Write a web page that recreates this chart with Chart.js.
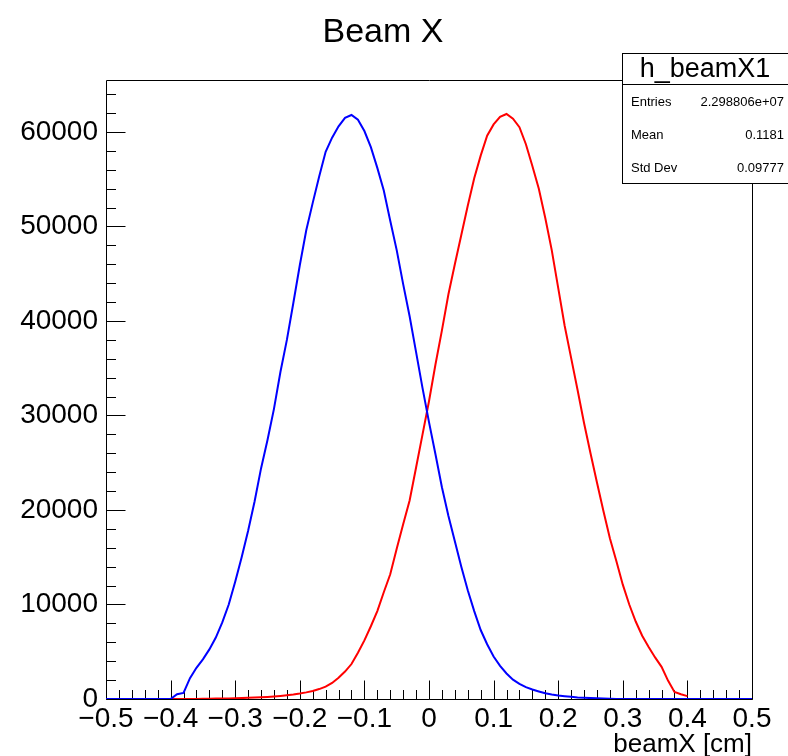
<!DOCTYPE html>
<html>
<head>
<meta charset="utf-8">
<script src="https://cdn.jsdelivr.net/npm/chart.js@4.4.1/dist/chart.umd.min.js"></script>
<style>
html,body{margin:0;padding:0;background:#fff;}
canvas{display:block;}
</style>
</head>
<body>
<canvas id="c" width="788" height="756"></canvas>
<script>
// ---- data ----
const binCenters = [
 -0.50,-0.49,-0.48,-0.47,-0.46,-0.45,-0.44,-0.43,-0.42,-0.41,
 -0.40,-0.39,-0.38,-0.37,-0.36,-0.35,-0.34,-0.33,-0.32,-0.31,
 -0.30,-0.29,-0.28,-0.27,-0.26,-0.25,-0.24,-0.23,-0.22,-0.21,
 -0.20,-0.19,-0.18,-0.17,-0.16,-0.15,-0.14,-0.13,-0.12,-0.11,
 -0.10,-0.09,-0.08,-0.07,-0.06,-0.05,-0.04,-0.03,-0.02,-0.01,
  0.00, 0.01, 0.02, 0.03, 0.04, 0.05, 0.06, 0.07, 0.08, 0.09,
  0.10, 0.11, 0.12, 0.13, 0.14, 0.15, 0.16, 0.17, 0.18, 0.19,
  0.20, 0.21, 0.22, 0.23, 0.24, 0.25, 0.26, 0.27, 0.28, 0.29,
  0.30, 0.31, 0.32, 0.33, 0.34, 0.35, 0.36, 0.37, 0.38, 0.39,
  0.40, 0.41, 0.42, 0.43, 0.44, 0.45, 0.46, 0.47, 0.48, 0.49,
  0.50
];
const blueCounts = [
 0,0,0,0,0,0,0,0,0,0,
 0,500,650,2200,3300,4200,5250,6500,8100,10000,
 12400,15000,17800,20900,24400,27400,30700,34600,38000,41900,
 45900,49600,52500,55300,57900,59400,60600,61500,61800,61300,
 60100,58400,56200,53800,50600,47500,43900,40500,36700,32900,
 29300,25900,22400,19400,16700,14000,11500,9300,7300,5800,
 4500,3500,2700,2050,1600,1250,1000,800,600,480,
 380,300,230,170,130,100,70,50,30,0,
 0,0,0,0,0,0,0,0,0,0,
 0,0,0,0,0,0,0,0,0,0,
 0
];
const redCounts = [
 null,null,null,null,null,null,null,null,null,null,
 0,0,0,0,10,20,30,40,50,60,
 80,100,120,150,180,220,270,330,400,480,
 580,700,850,1050,1300,1700,2250,2900,3700,4900,
 6200,7700,9300,11300,13200,15900,18500,21000,24500,28000,
 31500,35400,39000,42800,46000,49100,52200,55100,57500,59600,
 60800,61600,61900,61400,60500,58700,56400,54000,50900,47500,
 43500,39500,36100,32700,29200,26000,22900,19900,17000,14600,
 12100,10000,8200,6700,5500,4400,3400,1950,750,500,
 300,null,null,null,null,null,null,null,null,null,
 null
];
const xTickValues = [-0.5,-0.4,-0.3,-0.2,-0.1,0,0.1,0.2,0.3,0.4,0.5];
const xTickLabels = ['\u22120.5','\u22120.4','\u22120.3','\u22120.2','\u22120.1','0','0.1','0.2','0.3','0.4','0.5'];
const yTickValues = [0,10000,20000,30000,40000,50000,60000];
const yTickLabels = ['0','10000','20000','30000','40000','50000','60000'];
const histTitle = 'Beam X';
const xAxisTitle = 'beamX [cm]';
const statsName = 'h_beamX1';
const statsLabels = ['Entries','Mean','Std Dev'];
const statsValues = ['2.298806e+07','0.1181','0.09777'];

const FONT = "'Liberation Sans', Arial, Helvetica, sans-serif";
Chart.defaults.font.family = FONT;
Chart.defaults.color = '#000';

function pts(ys){ return binCenters.map((x,i)=>({x:x, y:ys[i]})); }

const rootDecor = {
  id: 'rootDecor',
  beforeDatasetsDraw(chart){
    const {ctx, chartArea:a, scales:{x, y}} = chart;
    ctx.save();
    ctx.strokeStyle = '#000';
    ctx.lineWidth = 1;
    ctx.beginPath();
    const L = Math.round(a.left)+0.5, R = Math.round(a.right)+0.5;
    const T = Math.round(a.top)+0.5, B = Math.round(a.bottom)+0.5;
    ctx.moveTo(L,T); ctx.lineTo(R,T); ctx.lineTo(R,B); ctx.lineTo(L,B); ctx.closePath();
    // y ticks: major 10000, minor 2000
    for (let i=0; i*2000 <= y.max; i++){
      const py = Math.round(y.getPixelForValue(i*2000))+0.5;
      const len = (i%5===0) ? 19 : 9.5;
      ctx.moveTo(L, py); ctx.lineTo(L+len, py);
    }
    // x ticks: major 0.1, minor 0.02
    for (let i=0; i<=50; i++){
      const v = -0.5 + i*0.02;
      const px = Math.round(x.getPixelForValue(v))+0.5;
      const len = (i%5===0) ? 19 : 9.5;
      ctx.moveTo(px, B); ctx.lineTo(px, B-len);
    }
    ctx.stroke();
    ctx.restore();
  },
  afterDraw(chart){
    const {ctx} = chart;
    ctx.save();
    // title
    ctx.fillStyle = '#000';
    ctx.font = '34px ' + FONT;
    ctx.textAlign = 'center';
    ctx.textBaseline = 'alphabetic';
    ctx.fillText(histTitle, 383, 42);
    // stats box
    ctx.fillStyle = '#fff';
    ctx.fillRect(622.5, 53.5, 200, 130);
    ctx.strokeStyle = '#000';
    ctx.lineWidth = 1;
    ctx.strokeRect(622.5, 53.5, 200, 130);
    ctx.beginPath(); ctx.moveTo(622.5, 84.5); ctx.lineTo(800, 84.5); ctx.stroke();
    ctx.fillStyle = '#000';
    ctx.font = '27px ' + FONT;
    ctx.textAlign = 'center';
    ctx.textBaseline = 'middle';
    ctx.fillText(statsName, 705, 70);
    ctx.font = '13px ' + FONT;
    const rowsY = [102, 135, 168];
    statsLabels.forEach((lab,i)=>{
      ctx.textAlign = 'left';
      ctx.fillText(lab, 631, rowsY[i]);
      ctx.textAlign = 'right';
      ctx.fillText(statsValues[i], 784, rowsY[i]);
    });
    ctx.restore();
  }
};

new Chart(document.getElementById('c'), {
  type: 'line',
  data: {
    datasets: [
      {label:'blue', data: pts(blueCounts), borderColor:'#0000ff', borderWidth:2, pointRadius:0, tension:0, fill:false},
      {label:statsName, data: pts(redCounts), borderColor:'#ff0000', borderWidth:2, pointRadius:0, tension:0, fill:false, spanGaps:false}
    ]
  },
  options: {
    responsive:false, animation:false, devicePixelRatio:1,
    layout:{padding:{top:80, right:36, left:0, bottom:0}},
    plugins:{legend:{display:false}, title:{display:false}, tooltip:{enabled:false}},
    scales:{
      x:{
        type:'linear', min:-0.5, max:0.5, bounds:'data',
        afterFit(s){ s.height = 57; },
        afterBuildTicks(s){ s.ticks = xTickValues.map(v=>({value:v})); },
        grid:{display:false, drawTicks:false}, border:{display:false},
        ticks:{autoSkip:false, maxRotation:0, padding:3,
          color:'#000', font:{size:28},
          callback:(v)=>{ const i = xTickValues.findIndex(t=>Math.abs(t-v)<1e-6); return xTickLabels[i]; }},
        title:{display:true, text:xAxisTitle, align:'end', color:'#000', font:{size:26, lineHeight:0.85}, padding:{top:0,bottom:0}}
      },
      y:{
        type:'linear', min:0, max:65500, bounds:'data',
        afterFit(s){ s.width = 106; },
        afterBuildTicks(s){ s.ticks = yTickValues.map(v=>({value:v})); },
        grid:{display:false, drawTicks:false}, border:{display:false},
        ticks:{autoSkip:false, padding:8, color:'#000', font:{size:28},
          callback:(v)=>{ const i = yTickValues.indexOf(v); return yTickLabels[i]; }}
      }
    }
  },
  plugins:[rootDecor]
});
</script>
</body>
</html>
